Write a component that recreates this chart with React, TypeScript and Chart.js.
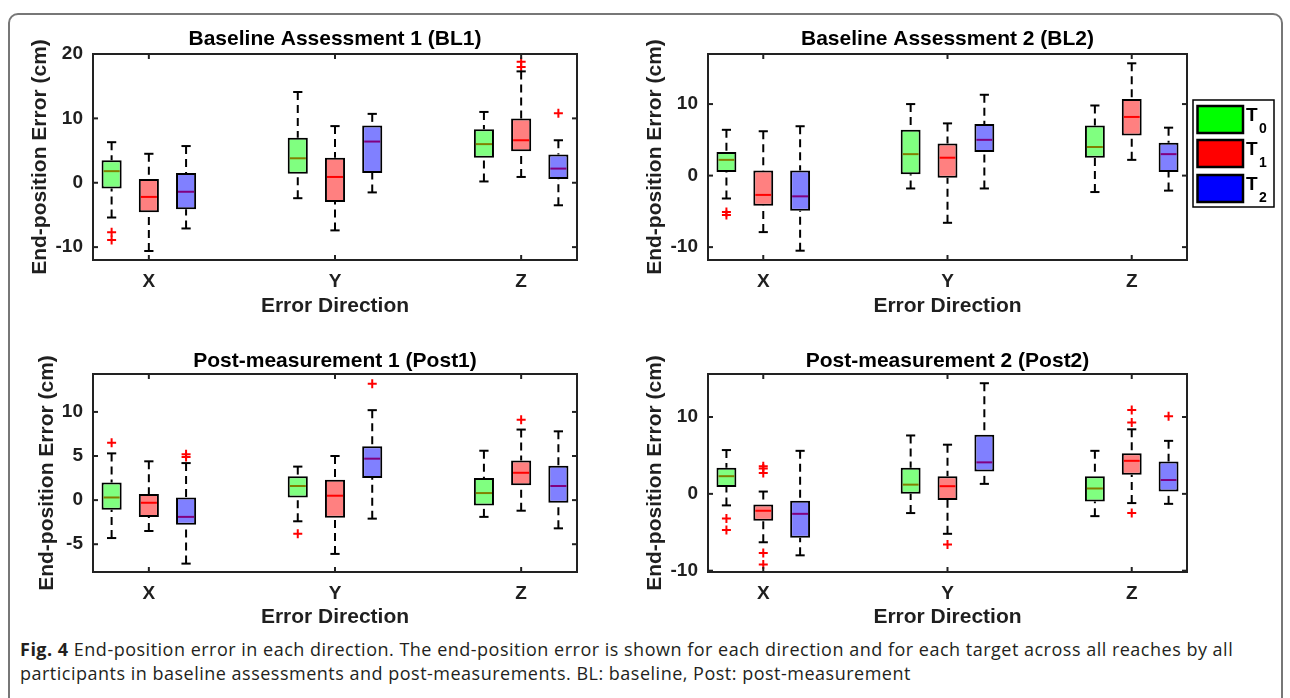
import React, { useEffect, useRef } from 'react';
import { Chart, registerables } from 'chart.js';

Chart.register(...registerables);

const FONT = '"Liberation Sans", Arial, Helvetica, sans-serif';
const TEXT = '#1f1f1f';

const categories = ['X', 'Y', 'Z'];
const groups = ['T0', 'T1', 'T2'];
const groupOffsets = [-0.2, 0, 0.2];
const boxFills = ['#80ff80', '#ff8080', '#8080ff'];
const medianColors = ['#808000', '#ff0000', '#800080'];
const legendFills = ['#00ff00', '#ff0000', '#0000ff'];
const xLabel = 'Error Direction';
const yLabel = 'End-position Error (cm)';

// each row: [lower whisker, Q1, median, Q3, upper whisker] for X, Y, Z
const bl1T0 = [[-5.4, -0.9, 1.8, 3.5, 6.3], [-2.4, 1.4, 3.8, 7.0, 14.1], [0.2, 3.9, 6.0, 8.3, 11.0]];
const bl1T1 = [[-10.6, -4.6, -2.2, 0.6, 4.5], [-7.4, -3.0, 0.9, 3.9, 8.8], [0.9, 4.9, 6.6, 10.0, 17.3]];
const bl1T2 = [[-7.1, -4.1, -1.4, 1.5, 5.7], [-1.5, 1.5, 6.4, 8.9, 10.7], [-3.5, 0.6, 2.2, 4.4, 6.6]];
const bl1OutT0 = [[-7.7, -8.9], [], []];
const bl1OutT1 = [[], [], [18.8, 18.0]];
const bl1OutT2 = [[], [], [10.8]];
const bl1Ticks = [-10, 0, 10, 20];

const bl2T0 = [[-3.2, 0.5, 2.2, 3.3, 6.4], [-1.8, 0.2, 3.0, 6.4, 10.0], [-2.3, 2.5, 4.0, 7.0, 9.8]];
const bl2T1 = [[-7.9, -4.2, -2.7, 0.7, 6.2], [-6.6, -0.3, 2.5, 4.5, 7.3], [2.2, 5.6, 8.2, 10.7, 15.7]];
const bl2T2 = [[-10.5, -4.9, -2.9, 0.7, 6.9], [-1.8, 3.3, 5.0, 7.2, 11.3], [-2.1, 0.5, 3.0, 4.6, 6.7]];
const bl2OutT0 = [[-5.1, -5.5], [], []];
const bl2OutT1 = [[], [], []];
const bl2OutT2 = [[], [], []];
const bl2Ticks = [-10, 0, 10];

const post1T0 = [[-4.3, -1.1, 0.3, 2.0, 5.3], [-2.4, 0.3, 1.6, 2.7, 3.8], [-1.9, -0.6, 0.8, 2.5, 5.6]];
const post1T1 = [[-3.5, -1.9, -0.3, 0.7, 4.4], [-6.1, -2.0, 0.5, 2.3, 5.0], [-1.2, 1.7, 3.1, 4.5, 8.0]];
const post1T2 = [[-7.2, -2.8, -1.9, 0.3, 4.2], [-2.1, 2.5, 4.7, 6.1, 10.2], [-3.2, -0.3, 1.6, 3.9, 7.8]];
const post1OutT0 = [[6.5], [-3.8], []];
const post1OutT1 = [[], [], [9.1]];
const post1OutT2 = [[5.2, 4.9], [13.2], []];
const post1Ticks = [-5, 0, 5, 10];

const post2T0 = [[-1.5, 0.9, 2.3, 3.4, 5.7], [-2.5, 0.0, 1.2, 3.4, 7.6], [-2.9, -1.0, 0.7, 2.3, 5.6]];
const post2T1 = [[-6.3, -3.5, -2.2, -1.4, 0.3], [-5.2, -0.8, 1.0, 2.3, 6.4], [-1.2, 2.5, 4.3, 5.3, 8.4]];
const post2T2 = [[-8.0, -5.7, -2.6, -0.9, 5.6], [1.3, 2.9, 4.1, 7.7, 14.4], [-1.3, 0.3, 1.8, 4.2, 6.9]];
const post2OutT0 = [[-3.2, -4.7], [], []];
const post2OutT1 = [[3.6, 3.3, 2.7, -7.7, -9.2], [-6.6], [10.9, 9.3, -2.5]];
const post2OutT2 = [[], [], [10.1]];
const post2Ticks = [-10, 0, 10];

const panelTitles = [
  'Baseline Assessment 1 (BL1)',
  'Baseline Assessment 2 (BL2)',
  'Post-measurement 1 (Post1)',
  'Post-measurement 2 (Post2)',
];

const panels = [
  { title: panelTitles[0], stats: [bl1T0, bl1T1, bl1T2], outliers: [bl1OutT0, bl1OutT1, bl1OutT2], yMin: -12, yMax: 20, yTicks: bl1Ticks },
  { title: panelTitles[1], stats: [bl2T0, bl2T1, bl2T2], outliers: [bl2OutT0, bl2OutT1, bl2OutT2], yMin: -11.8, yMax: 17, yTicks: bl2Ticks },
  { title: panelTitles[2], stats: [post1T0, post1T1, post1T2], outliers: [post1OutT0, post1OutT1, post1OutT2], yMin: -8.15, yMax: 14.3, yTicks: post1Ticks },
  { title: panelTitles[3], stats: [post2T0, post2T1, post2T2], outliers: [post2OutT0, post2OutT1, post2OutT2], yMin: -10.17, yMax: 15.6, yTicks: post2Ticks },
];

// layout geometry (pixels)
const geometry = [
  { left: 0, top: 14, w: 600, h: 320, padRight: 23, yAxisW: 93, xAxisH: 74, titleY: 25.5, yTitlePad: 27.4, xTitlePad: 15.4, legend: false },
  { left: 620, top: 14, w: 670, h: 320, padRight: 103, yAxisW: 88, xAxisH: 74, titleY: 25.5, yTitlePad: 22.4, xTitlePad: 15.4, legend: true },
  { left: 0, top: 334, w: 600, h: 300, padRight: 23, yAxisW: 93, xAxisH: 62, titleY: 27.5, yTitlePad: 34.4, xTitlePad: 3.9, legend: false },
  { left: 620, top: 334, w: 670, h: 300, padRight: 103, yAxisW: 88, xAxisH: 62, titleY: 27.5, yTitlePad: 22.4, xTitlePad: 3.9, legend: false },
];

function line(ctx: CanvasRenderingContext2D, x1: number, y1: number, x2: number, y2: number) {
  ctx.beginPath();
  ctx.moveTo(x1, y1);
  ctx.lineTo(x2, y2);
  ctx.stroke();
}

function makePlugin(p: any, geo: any) {
  return {
    id: 'boxExtras',
    afterDatasetsDraw(chart: any) {
      const { ctx, scales } = chart;
      const ys = scales.y;
      ctx.save();
      p.stats.forEach((groupStats: number[][], g: number) => {
        const meta = chart.getDatasetMeta(g);
        groupStats.forEach((s: number[], c: number) => {
          const bar = meta.data[c];
          const cx = bar.x;
          const w = bar.width;
          const pLo = ys.getPixelForValue(s[0]);
          const pQ1 = ys.getPixelForValue(s[1]);
          const pMed = ys.getPixelForValue(s[2]);
          const pQ3 = ys.getPixelForValue(s[3]);
          const pHi = ys.getPixelForValue(s[4]);
          ctx.strokeStyle = '#000';
          ctx.lineWidth = 2;
          ctx.setLineDash([8, 5]);
          line(ctx, cx, pHi, cx, pQ3);
          line(ctx, cx, pLo, cx, pQ1);
          ctx.setLineDash([]);
          const cw = w * 0.23;
          line(ctx, cx - cw, pHi, cx + cw, pHi);
          line(ctx, cx - cw, pLo, cx + cw, pLo);
          ctx.strokeStyle = medianColors[g];
          line(ctx, cx - w / 2 + 2, pMed, cx + w / 2 - 2, pMed);
        });
      });
      ctx.restore();
    },
    afterDraw(chart: any) {
      const { ctx, chartArea, scales } = chart;
      const { left, right, top, bottom } = chartArea;
      ctx.save();
      ctx.strokeStyle = '#222';
      ctx.lineWidth = 2;
      ctx.strokeRect(left, top, right - left, bottom - top);
      const tl = 5;
      scales.y.ticks.forEach((t: any) => {
        const py = scales.y.getPixelForValue(t.value);
        line(ctx, left, py, left + tl, py);
        line(ctx, right, py, right - tl, py);
      });
      scales.x.ticks.forEach((t: any) => {
        const px = scales.x.getPixelForValue(t.value);
        line(ctx, px, bottom, px, bottom - tl);
        line(ctx, px, top, px, top + tl);
      });
      ctx.fillStyle = '#000';
      ctx.font = `bold 21px ${FONT}`;
      ctx.textAlign = 'center';
      ctx.textBaseline = 'middle';
      ctx.fillText(p.title, (left + right) / 2, geo.titleY);

      if (geo.legend) {
        const lx = right + 6;
        const ly = 86;
        const lw = 81;
        const lh = 107;
        ctx.fillStyle = '#fff';
        ctx.fillRect(lx, ly, lw, lh);
        ctx.strokeStyle = '#000';
        ctx.lineWidth = 1.5;
        ctx.strokeRect(lx, ly, lw, lh);
        const rowTops = [6, 40, 75];
        groups.forEach((name, g) => {
          const sy = ly + rowTops[g];
          ctx.fillStyle = legendFills[g];
          ctx.fillRect(lx + 4.5, sy, 45.5, 27);
          ctx.lineWidth = 2.5;
          ctx.strokeStyle = '#000';
          ctx.strokeRect(lx + 4.5, sy, 45.5, 27);
          ctx.fillStyle = '#000';
          ctx.textAlign = 'left';
          ctx.textBaseline = 'alphabetic';
          ctx.font = `bold 19px ${FONT}`;
          ctx.fillText(name.slice(0, 1), lx + 53, sy + 14.5);
          ctx.font = `bold 14px ${FONT}`;
          ctx.fillText(name.slice(1), lx + 66, sy + 27);
        });
      }
      ctx.restore();
    },
  };
}

function buildConfig(p: any, geo: any): any {
  const datasets: any[] = p.stats.map((groupStats: number[][], g: number) => ({
    type: 'bar',
    label: groups[g],
    data: groupStats.map((s: number[], c: number) => ({ x: c + 1 + groupOffsets[g], y: [s[1], s[3]] })),
    backgroundColor: boxFills[g],
    borderColor: '#000',
    borderWidth: 2,
    borderSkipped: false,
    grouped: false,
    barPercentage: 0.54,
    categoryPercentage: 1,
    order: 2,
  }));
  const outlierPoints: { x: number; y: number }[] = [];
  p.outliers.forEach((go: number[][], g: number) =>
    go.forEach((vals: number[], c: number) =>
      vals.forEach((v: number) => outlierPoints.push({ x: c + 1 + groupOffsets[g], y: v }))
    )
  );
  datasets.push({
    type: 'scatter',
    label: 'outliers',
    data: outlierPoints,
    pointStyle: 'cross',
    pointRadius: 4.5,
    borderColor: '#ff0000',
    backgroundColor: '#ff0000',
    borderWidth: 2,
    order: 1,
  });

  const tickFont = { family: FONT, size: 19, weight: 'bold' };
  const titleFont = { family: FONT, size: 21, weight: 'bold' };

  return {
    type: 'bar',
    data: { datasets },
    plugins: [makePlugin(p, geo)],
    options: {
      responsive: false,
      animation: false,
      devicePixelRatio: 1,
      events: [],
      layout: { padding: { top: 40, left: 0, right: geo.padRight, bottom: 0 } },
      plugins: { legend: { display: false }, tooltip: { enabled: false }, title: { display: false } },
      scales: {
        x: {
          type: 'linear',
          min: 0.7,
          max: 3.3,
          offset: false,
          afterBuildTicks: (s: any) => {
            s.ticks = categories.map((_, i) => ({ value: i + 1 }));
          },
          ticks: {
            callback: (v: number) => categories[Math.round(v) - 1] ?? '',
            font: tickFont,
            color: TEXT,
            padding: 10,
            maxRotation: 0,
            autoSkip: false,
          },
          grid: { display: false, drawTicks: false },
          border: { display: false },
          title: { display: true, text: xLabel, font: titleFont, color: TEXT, padding: { top: 0, bottom: geo.xTitlePad } },
          afterFit: (s: any) => {
            s.height = geo.xAxisH;
          },
        },
        y: {
          type: 'linear',
          min: p.yMin,
          max: p.yMax,
          afterBuildTicks: (s: any) => {
            s.ticks = p.yTicks.map((v: number) => ({ value: v }));
          },
          ticks: { font: tickFont, color: TEXT, padding: 10 },
          grid: { display: false, drawTicks: false },
          border: { display: false },
          title: { display: true, text: yLabel, font: titleFont, color: TEXT, padding: { top: geo.yTitlePad, bottom: 0 } },
          afterFit: (s: any) => {
            s.width = geo.yAxisW;
          },
        },
      },
    },
  };
}

function Panel({ spec, geo }: { spec: any; geo: any }) {
  const ref = useRef<HTMLCanvasElement>(null);
  useEffect(() => {
    const chart = new Chart(ref.current as HTMLCanvasElement, buildConfig(spec, geo));
    return () => chart.destroy();
  }, []);
  return (
    <canvas
      ref={ref}
      width={geo.w}
      height={geo.h}
      style={{ position: 'absolute', left: geo.left, top: geo.top, width: geo.w, height: geo.h }}
    />
  );
}

export default function App() {
  return (
    <div style={{ position: 'absolute', left: 0, top: 0, width: 1290, height: 698, overflow: 'hidden', background: '#fff' }}>
      <div
        style={{
          position: 'absolute',
          left: 8,
          top: 13,
          width: 1275,
          height: 720,
          border: '2px solid #777',
          borderRadius: 10,
          boxSizing: 'border-box',
        }}
      />
      {panels.map((p, i) => (
        <Panel key={i} spec={p} geo={geometry[i]} />
      ))}
      <div
        style={{
          position: 'absolute',
          left: 20,
          top: 637,
          fontFamily: '"Open Sans", "Noto Sans", sans-serif',
          fontSize: 18,
          letterSpacing: '0.5px',
          lineHeight: '24px',
          color: '#231f20',
          whiteSpace: 'nowrap',
        }}
      >
        <b>Fig. 4</b> End-position error in each direction. The end-position error is shown for each direction and for each target across all reaches by all
        <br />
        participants in baseline assessments and post-measurements. BL: baseline, Post: post-measurement
      </div>
    </div>
  );
}
